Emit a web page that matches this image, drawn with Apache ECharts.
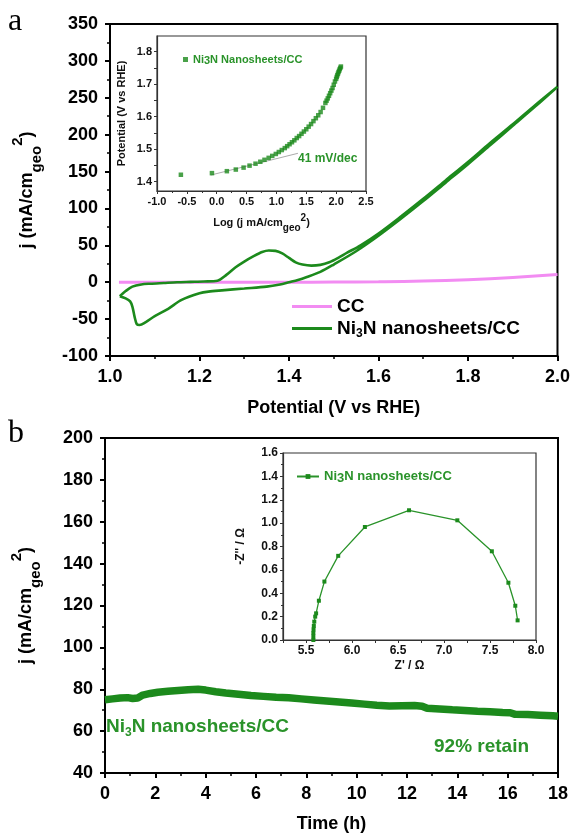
<!DOCTYPE html>
<html>
<head>
<meta charset="utf-8">
<script src="https://cdn.jsdelivr.net/npm/echarts@6/dist/echarts.min.js"></script>
<style>
  html, body { margin: 0; padding: 0; background: #fff; }
  #chart { width: 573px; height: 835px; }
</style>
</head>
<body>
<div id="chart"></div>
<script>
// ---- panel a: CV curves ----
const ccV = [1.02, 1.1, 1.2, 1.3, 1.4, 1.5, 1.6, 1.7, 1.8, 1.9, 2.0];
const ccJ = [0, 0, 0, 0, 0, 0.2, 0.5, 1.5, 3.5, 6.5, 10.5];

const cvV = [1.022, 1.035, 1.05, 1.07, 1.09, 1.12, 1.15, 1.18, 1.21, 1.24, 1.26, 1.28, 1.30, 1.32, 1.34, 1.355,
  1.37, 1.385, 1.40, 1.415, 1.43, 1.45, 1.47, 1.49, 1.51, 1.53, 1.56, 1.6, 1.65, 1.7, 1.75, 1.8, 1.85, 1.9, 1.95, 2.0,
  1.95, 1.9, 1.85, 1.8, 1.75, 1.7, 1.65, 1.6, 1.55, 1.5, 1.47, 1.44, 1.42, 1.40, 1.38, 1.35, 1.3, 1.25, 1.22,
  1.2, 1.16, 1.13, 1.1, 1.08, 1.066, 1.06, 1.055, 1.05, 1.045, 1.035, 1.022];
const cvJ = [-19, -12, -6, -3, -2, -1, 0, 0.5, 1, 2, 10, 20, 28, 35, 41, 43,
  42.5, 39, 33, 27, 24, 22.5, 23.5, 27, 33, 40, 50, 66, 89, 113, 138, 163, 189, 214, 240, 265,
  238, 212, 186, 160, 135, 110, 86, 63, 42, 24, 14, 7, 3, 0, -3, -6, -8.5, -11, -12.7,
  -15, -24, -36, -46, -54, -58, -57, -47, -33, -26, -22, -19];

// ---- inset a: Tafel ----
const tafelLogJ = [-0.6, -0.08, 0.17, 0.32, 0.45, 0.55, 0.65, 0.73, 0.80, 0.87, 0.93, 0.99, 1.04, 1.09, 1.14,
  1.18, 1.22, 1.26, 1.30, 1.34, 1.38, 1.42, 1.46, 1.50, 1.54, 1.58, 1.62, 1.66, 1.70, 1.74, 1.78, 1.82,
  1.84, 1.86, 1.88, 1.90, 1.92, 1.94, 1.96, 1.98, 2.00, 2.01, 2.02, 2.03, 2.04, 2.05, 2.06, 2.07, 2.08];
const tafelV = [1.421, 1.426, 1.432, 1.437, 1.443, 1.449, 1.455, 1.461, 1.467, 1.473, 1.479, 1.485, 1.491, 1.497, 1.503,
  1.509, 1.515, 1.521, 1.527, 1.534, 1.540, 1.547, 1.554, 1.561, 1.569, 1.577, 1.586, 1.595, 1.604, 1.614, 1.627, 1.642,
  1.649, 1.656, 1.664, 1.672, 1.680, 1.688, 1.698, 1.708, 1.716, 1.722, 1.727, 1.732, 1.737, 1.741, 1.746, 1.750, 1.754];
const fitLogJ = [-0.1, 1.36];
const fitV = [1.42, 1.487];

// ---- inset b: Nyquist ----
const eisRe = [5.58, 5.58, 5.58, 5.582, 5.585, 5.59, 5.6, 5.61, 5.64, 5.70, 5.85, 6.14, 6.62, 7.145, 7.52, 7.70, 7.775, 7.80];
const eisIm = [0.0, 0.03, 0.06, 0.09, 0.12, 0.157, 0.2, 0.228, 0.336, 0.50, 0.72, 0.967, 1.11, 1.024, 0.759, 0.49, 0.293, 0.168];

// ---- panel b: chronoamperometry ----
const timeH = [0, 0.3, 0.6, 0.9, 1.1, 1.3, 1.5, 1.8, 2.1, 2.5, 2.9, 3.3, 3.7, 4.0, 4.4, 4.8, 5.3, 5.8, 6.3, 6.8,
  7.3, 7.8, 8.3, 8.8, 9.3, 9.8, 10.3, 10.8, 11.3, 11.8, 12.3, 12.6, 12.8, 13.3, 13.8, 14.3, 14.8, 15.3, 15.8,
  16.1, 16.3, 16.8, 17.3, 17.8, 18];
const currentJ = [75.0, 75.4, 75.8, 76.0, 75.6, 75.8, 77.2, 78.0, 78.6, 79.0, 79.4, 79.8, 80.0, 79.6, 78.8, 78.2, 77.6, 77.0, 76.6, 76.2,
  75.9, 75.4, 74.9, 74.4, 73.9, 73.4, 72.9, 72.4, 72.0, 72.1, 72.2, 71.9, 70.9, 70.6, 70.2, 69.9, 69.5, 69.2, 68.9,
  68.8, 68.0, 67.9, 67.6, 67.3, 67.1];

const zip = (a, b) => a.map((v, i) => [v, b[i]]);

const FONT = '"Liberation Sans", Arial, sans-serif';
const GREEN = '#1c8a1c';
const GREEN_TXT = '#2a932a';
const PINK = '#f28cf2';

// подписи с индексами
const jRich = {
  b: { fontSize: 18, fontWeight: 'bold', fontFamily: FONT, lineHeight: 34, verticalAlign: 'middle' },
  sub: { fontSize: 15, fontWeight: 'bold', fontFamily: FONT, lineHeight: 15, verticalAlign: 'bottom' },
  sup: { fontSize: 15, fontWeight: 'bold', fontFamily: FONT, lineHeight: 15, verticalAlign: 'top' }
};
const jName = '{b|j (mA/cm}{sub|geo}{sup|2}{b|)}';

function mainAxisStyle(extra) {
  return Object.assign({
    axisLine: { show: true, onZero: false, lineStyle: { color: '#000', width: 2 } },
    axisTick: { show: true, inside: false, length: 5, lineStyle: { color: '#000', width: 2 } },
    minorTick: { show: true, splitNumber: 2, length: 3, lineStyle: { color: '#000', width: 1.5 } },
    splitLine: { show: false },
    axisLabel: { color: '#000', fontSize: 18, fontWeight: 'bold', fontFamily: FONT, margin: 12 },
    nameTextStyle: { color: '#000', fontSize: 18, fontWeight: 'bold', fontFamily: FONT }
  }, extra);
}

function insetAxisStyle(fs, extra) {
  return Object.assign({
    axisLine: { show: true, onZero: false, lineStyle: { color: '#333', width: 1.2 } },
    axisTick: { show: true, inside: false, length: 3, lineStyle: { color: '#333', width: 1 } },
    minorTick: { show: true, splitNumber: 2, length: 2, lineStyle: { color: '#333', width: 1 } },
    splitLine: { show: false },
    axisLabel: { color: '#111', fontSize: fs, fontWeight: 'bold', fontFamily: FONT, margin: 5 },
    nameTextStyle: { color: '#111', fontSize: fs, fontWeight: 'bold', fontFamily: FONT }
  }, extra);
}

const chart = echarts.init(document.getElementById('chart'), null, { renderer: 'canvas' });

const option = {
  backgroundColor: '#fff',
  animation: false,
  grid: [
    { left: 110, top: 24, width: 448, height: 332, show: true, borderColor: '#000', borderWidth: 2, backgroundColor: 'transparent' },
    { left: 157, top: 36, width: 209, height: 155, show: true, borderColor: '#333', borderWidth: 1.2, backgroundColor: '#fff' },
    { left: 105, top: 438, width: 453, height: 335, show: true, borderColor: '#000', borderWidth: 2, backgroundColor: 'transparent' },
    { left: 283, top: 453, width: 253, height: 187, show: true, borderColor: '#333', borderWidth: 1.2, backgroundColor: '#fff' }
  ],
  xAxis: [
    mainAxisStyle({
      gridIndex: 0, type: 'value', min: 1.0, max: 2.0, interval: 0.2,
      name: 'Potential (V vs RHE)', nameLocation: 'middle', nameGap: 43,
      axisLabel: { color: '#000', fontSize: 18, fontWeight: 'bold', fontFamily: FONT, margin: 12, formatter: v => v.toFixed(1) }
    }),
    insetAxisStyle(11, {
      gridIndex: 1, type: 'value', min: -1.0, max: 2.5, interval: 0.5,
      name: '{t|Log (j mA/cm}{sub|geo}{sup|2}{t|)}', nameLocation: 'middle', nameGap: 22,
      nameTextStyle: {
        rich: {
          t: { fontSize: 11, fontWeight: 'bold', fontFamily: FONT, color: '#111', lineHeight: 20, verticalAlign: 'middle' },
          sub: { fontSize: 10, fontWeight: 'bold', fontFamily: FONT, color: '#111', lineHeight: 10, verticalAlign: 'bottom' },
          sup: { fontSize: 10, fontWeight: 'bold', fontFamily: FONT, color: '#111', lineHeight: 10, verticalAlign: 'top' }
        }
      },
      axisLabel: { color: '#111', fontSize: 11, fontWeight: 'bold', fontFamily: FONT, margin: 5, formatter: v => v.toFixed(1) }
    }),
    mainAxisStyle({
      gridIndex: 2, type: 'value', min: 0, max: 18, interval: 2,
      name: 'Time (h)', nameLocation: 'middle', nameGap: 42
    }),
    insetAxisStyle(12, {
      gridIndex: 3, type: 'value', min: 5.25, max: 8.0, interval: 0.25,
      name: "Z' / Ω", nameLocation: 'middle', nameGap: 20,
      minorTick: { show: false },
      axisLabel: {
        color: '#111', fontSize: 12, fontWeight: 'bold', fontFamily: FONT, margin: 5,
        formatter: v => (Math.abs(v * 2 - Math.round(v * 2)) < 1e-6 ? v.toFixed(1) : '')
      }
    })
  ],
  yAxis: [
    mainAxisStyle({
      gridIndex: 0, type: 'value', min: -100, max: 350, interval: 50,
      name: jName, nameLocation: 'middle', nameGap: 66, nameRotate: 90,
      nameTextStyle: { rich: jRich }
    }),
    insetAxisStyle(11, {
      gridIndex: 1, type: 'value', min: 1.371, max: 1.848,
      name: 'Potential (V vs RHE)', nameLocation: 'middle', nameGap: 30,
      minorTick: { show: false },
      axisTick: { show: true, length: 3, customValues: [1.4, 1.45, 1.5, 1.55, 1.6, 1.65, 1.7, 1.75, 1.8], lineStyle: { color: '#333', width: 1 } },
      axisLabel: { color: '#111', fontSize: 11, fontWeight: 'bold', fontFamily: FONT, margin: 5,
        customValues: [1.4, 1.5, 1.6, 1.7, 1.8], formatter: v => v.toFixed(1) }
    }),
    mainAxisStyle({
      gridIndex: 2, type: 'value', min: 40, max: 200, interval: 20,
      name: jName, nameLocation: 'middle', nameGap: 62, nameRotate: 90,
      nameTextStyle: { rich: jRich }
    }),
    insetAxisStyle(12, {
      gridIndex: 3, type: 'value', min: 0, max: 1.6, interval: 0.2,
      name: "-Z'' / Ω", nameLocation: 'middle', nameGap: 36,
      axisLabel: { color: '#111', fontSize: 12, fontWeight: 'bold', fontFamily: FONT, margin: 5, formatter: v => v.toFixed(1) }
    })
  ],
  legend: [
    {
      data: [{ name: 'CC', icon: 'rect' }, { name: 'CV', icon: 'rect' }],
      orient: 'vertical', left: 287, top: 292, itemWidth: 40, itemHeight: 3, itemGap: 3,
      selectedMode: false,
      formatter: n => (n === 'CC' ? '{t|CC}' : '{t|Ni}{s|3}{t|N nanosheets/CC}'),
      textStyle: {
        rich: {
          t: { fontSize: 19, fontWeight: 'bold', fontFamily: FONT, color: '#000', lineHeight: 22, verticalAlign: 'middle' },
          s: { fontSize: 12, fontWeight: 'bold', fontFamily: FONT, color: '#000', lineHeight: 12, verticalAlign: 'bottom' }
        }
      }
    },
    {
      data: ['Tafel'], left: 178, top: 49, itemWidth: 5, itemHeight: 5, selectedMode: false,
      formatter: () => '{t|Ni}{s|3}{t|N Nanosheets/CC}',
      textStyle: {
        rich: {
          t: { fontSize: 11, fontWeight: 'bold', fontFamily: FONT, color: GREEN_TXT, lineHeight: 14, verticalAlign: 'middle' },
          s: { fontSize: 11, fontWeight: 'bold', fontFamily: FONT, color: GREEN_TXT, lineHeight: 12, verticalAlign: 'bottom' }
        }
      }
    },
    {
      data: ['EIS'], left: 291, top: 465, itemWidth: 22, itemHeight: 6, selectedMode: false,
      formatter: () => '{t|Ni}{s|3}{t|N nanosheets/CC}',
      textStyle: {
        rich: {
          t: { fontSize: 13, fontWeight: 'bold', fontFamily: FONT, color: GREEN_TXT, lineHeight: 16, verticalAlign: 'middle' },
          s: { fontSize: 13, fontWeight: 'bold', fontFamily: FONT, color: GREEN_TXT, lineHeight: 14, verticalAlign: 'bottom' }
        }
      }
    }
  ],
  graphic: [
    { type: 'text', left: 8, top: 6, style: { text: 'a', font: '32px "Liberation Serif", "DejaVu Serif", serif', fill: '#000' } },
    { type: 'text', left: 8, top: 418, style: { text: 'b', font: '32px "Liberation Serif", "DejaVu Serif", serif', fill: '#000' } },
    { type: 'text', left: 298, top: 153, style: { text: '41 mV/dec', font: 'bold 12px "Liberation Sans", Arial, sans-serif', fill: GREEN_TXT } },
    {
      type: 'text', left: 106, top: 717,
      style: {
        text: '{t|Ni}{s|3}{t|N nanosheets/CC}',
        rich: {
          t: { font: 'bold 19px "Liberation Sans", Arial, sans-serif', fill: GREEN_TXT, lineHeight: 24, verticalAlign: 'middle' },
          s: { font: 'bold 12px "Liberation Sans", Arial, sans-serif', fill: GREEN_TXT, lineHeight: 12, verticalAlign: 'bottom' }
        }
      }
    },
    { type: 'text', left: 434, top: 737, style: { text: '92% retain', font: 'bold 19px "Liberation Sans", Arial, sans-serif', fill: GREEN_TXT } }
  ],
  series: [
    {
      name: 'CC', type: 'line', xAxisIndex: 0, yAxisIndex: 0, data: zip(ccV, ccJ),
      showSymbol: false, symbol: 'none', smooth: true, lineStyle: { color: PINK, width: 3 }, itemStyle: { color: PINK }, z: 2
    },
    {
      name: 'CV', type: 'line', xAxisIndex: 0, yAxisIndex: 0, data: zip(cvV, cvJ),
      showSymbol: false, symbol: 'none', smooth: 0.3, lineStyle: { color: GREEN, width: 2.6 }, itemStyle: { color: GREEN }, z: 3
    },
    {
      name: 'Tafel', type: 'scatter', xAxisIndex: 1, yAxisIndex: 1, data: zip(tafelLogJ, tafelV),
      symbol: 'rect', symbolSize: 4.5, itemStyle: { color: GREEN }, z: 5
    },
    {
      name: 'fit', type: 'line', xAxisIndex: 1, yAxisIndex: 1, data: zip(fitLogJ, fitV),
      showSymbol: false, symbol: 'none', lineStyle: { color: '#aaa', width: 1 }, z: 4
    },
    {
      name: 'Chrono', type: 'line', xAxisIndex: 2, yAxisIndex: 2, data: zip(timeH, currentJ),
      showSymbol: false, symbol: 'none', lineStyle: { color: GREEN, width: 7.5 }, z: 3
    },
    {
      name: 'EIS', type: 'line', xAxisIndex: 3, yAxisIndex: 3, data: zip(eisRe, eisIm),
      symbol: 'rect', symbolSize: 4, showSymbol: true, lineStyle: { color: GREEN_TXT, width: 1.3 }, itemStyle: { color: GREEN }, z: 5
    }
  ]
};

chart.setOption(option);
</script>
</body>
</html>
